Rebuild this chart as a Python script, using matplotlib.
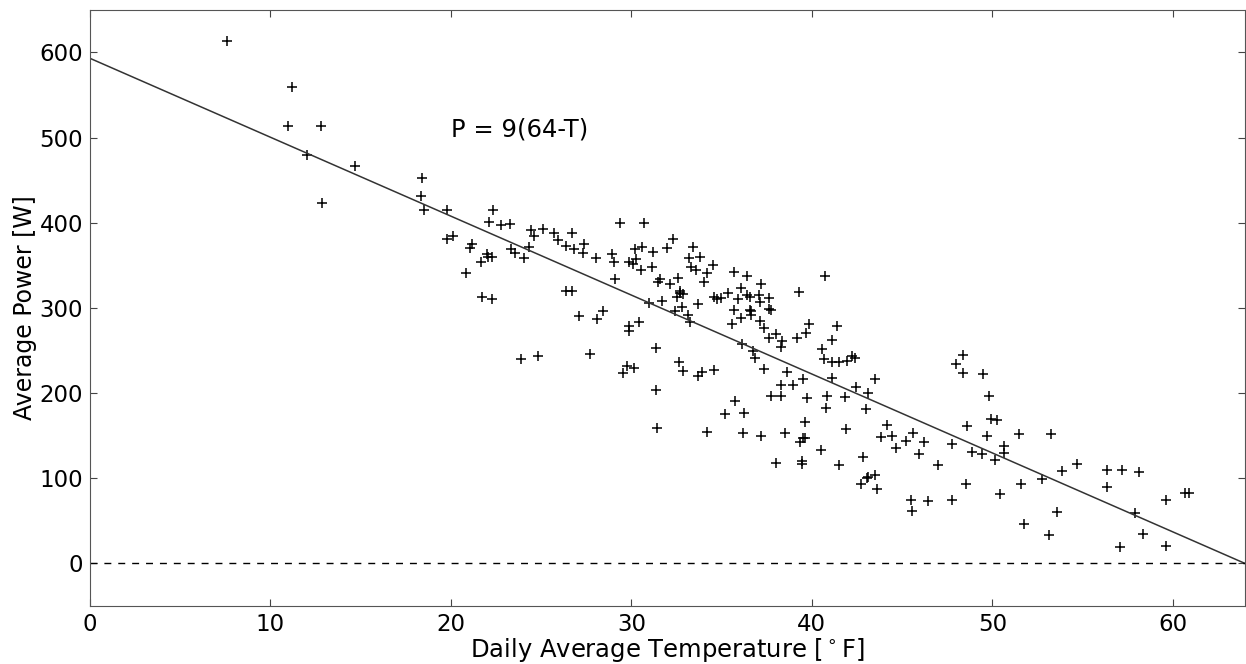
import numpy as np
import matplotlib
matplotlib.use("Agg")
import matplotlib.pyplot as plt

# daily average temperature [F] and average power [W]
temp = [7.6, 11.2, 10.95, 12.8, 12.0, 14.7, 12.85,
        18.4, 18.35, 18.5, 19.8, 19.8, 20.1,
        22.35, 22.1, 22.8, 23.3, 21.15, 21.05, 20.85, 21.65, 22.0, 22.05, 22.3, 21.7, 22.25,
        23.35, 23.55, 24.05, 24.35, 24.45, 24.6, 25.1, 25.7, 25.95, 26.7, 26.35, 26.8, 27.4, 27.3,
        28.05, 26.35, 26.7, 27.1, 28.1, 23.9, 24.8, 27.7,
        29.35, 30.7, 28.9, 29.05, 30.2, 30.6, 30.25, 29.85, 30.1, 30.55, 31.2, 31.15, 32.0, 32.3,
        33.4, 33.2, 33.8, 33.3, 33.6, 34.2, 34.5, 34.0, 35.7, 29.1, 31.6, 31.45, 32.15, 32.6,
        32.7, 32.85, 32.55, 32.7, 31.7, 31.0, 32.8, 32.4, 33.7, 33.15, 33.25, 34.55, 34.75, 34.95,
        35.35, 35.9, 35.7, 35.6, 28.4, 29.85, 29.85, 30.4, 31.35, 29.75, 30.15, 29.55, 32.65,
        32.85, 33.7, 33.9, 34.55, 31.35, 35.75, 35.2, 31.4, 34.2,
        36.4, 37.2, 36.05, 36.4, 36.55, 37.05, 37.6, 37.15, 36.55, 36.6, 37.6, 37.75, 36.65,
        36.1, 37.1, 37.35, 38.0, 37.6, 38.35, 38.3, 39.15, 39.65, 39.85, 39.3, 40.75, 41.4,
        41.1, 40.55, 40.7, 41.1, 41.5, 41.95, 42.2, 42.4, 36.15, 36.75, 36.85, 37.35, 38.6,
        39.5, 38.3, 38.95, 41.1, 42.45, 37.75, 38.3, 39.75, 40.85, 41.85, 40.8, 36.25, 39.6,
        41.9, 36.2, 37.2, 38.5, 39.35, 39.5, 39.6, 40.5, 38.0, 39.45, 39.45, 41.5,
        43.5, 43.1, 43.0, 44.15, 43.85, 44.45, 45.6, 45.2, 46.2, 44.65, 45.95, 42.85, 47.0,
        43.1, 43.05, 43.5, 42.7, 43.6, 45.5, 45.55, 46.45, 47.75, 48.4, 48.0, 48.4, 49.5,
        49.8, 49.95, 50.25, 48.6, 49.7, 47.75, 48.85, 49.4, 50.15, 48.55,
        51.45, 53.25, 50.65, 50.65, 50.45, 51.6, 52.75, 53.85, 54.7, 53.6, 51.75, 53.15,
        56.35, 56.35, 57.2, 58.15, 57.9, 58.35, 57.1, 59.6, 59.6, 60.65, 60.9]
power = [613, 559, 513, 513, 479, 466, 423,
         452, 431, 415, 415, 381, 384,
         415, 401, 397, 399, 375, 370, 341, 354, 363, 360, 360, 313, 311,
         369, 365, 359, 371, 391, 384, 393, 388, 380, 388, 373, 369, 375, 365,
         358, 320, 320, 291, 287, 240, 243, 246,
         400, 400, 363, 354, 369, 371, 357, 354, 351, 345, 366, 348, 370, 381,
         372, 359, 360, 348, 344, 341, 350, 330, 342, 334, 334, 330, 328, 335,
         320, 316, 313, 317, 308, 306, 301, 296, 305, 292, 283, 313, 311, 312,
         317, 310, 297, 281, 296, 279, 273, 283, 253, 232, 230, 223, 237,
         226, 220, 225, 227, 204, 191, 175, 159, 154,
         337, 328, 323, 315, 313, 315, 312, 307, 298, 296, 299, 297, 292,
         288, 285, 276, 269, 265, 261, 254, 265, 271, 281, 319, 337, 279,
         262, 252, 240, 236, 237, 238, 244, 241, 258, 249, 241, 228, 225,
         216, 210, 210, 218, 207, 197, 196, 194, 197, 195, 183, 177, 166,
         158, 153, 150, 153, 143, 147, 147, 133, 118, 120, 117, 115,
         217, 200, 181, 162, 148, 150, 153, 144, 142, 135, 128, 125, 115,
         102, 100, 104, 93, 87, 75, 61, 73, 75, 245, 234, 224, 222,
         197, 170, 168, 161, 150, 140, 131, 129, 121, 93,
         152, 152, 138, 130, 82, 93, 99, 109, 117, 60, 46, 33,
         110, 90, 110, 107, 59, 35, 19, 74, 20, 83, 83]

# fitted line end points
fit_t = [0, 64]
fit_p = [593, 0]

plt.rcParams['font.family'] = ['DejaVu Sans']
plt.rcParams['font.size'] = 16.5
plt.rcParams['xtick.direction'] = 'in'
plt.rcParams['ytick.direction'] = 'in'
plt.rcParams['xtick.top'] = True
plt.rcParams['ytick.right'] = True

fig = plt.figure(figsize=(12.46, 6.64), dpi=100)
ax = fig.add_axes([0.0722, 0.0873, 0.927, 0.898])

ax.plot(temp, power, '+', color='k', markersize=6.5, markeredgewidth=1.1)
ax.plot(fit_t, fit_p, '-', color='#333333', lw=1.1)
ax.axhline(0, color='k', ls='--', lw=1.0, dashes=(5, 5))
ax.text(20, 509, 'P = 9(64-T)', va='center', ha='left', fontsize=17.5)

ax.set_xlim(0, 64)
ax.set_ylim(-50, 650)
ax.set_xticks(np.arange(0, 61, 10))
ax.set_yticks(np.arange(0, 601, 100))
ax.tick_params(length=5, width=0.8, colors='#444444', labelcolor='k')
ax.tick_params(axis='x', pad=5)
ax.tick_params(axis='y', pad=5)
for s in ax.spines.values():
    s.set_color('#555555')
ax.set_xlabel(r'Daily Average Temperature [$^\circ$F]', fontsize=17.5, labelpad=0)
ax.set_ylabel('Average Power [W]', fontsize=17, labelpad=2)

plt.savefig('out.png', dpi=100)
